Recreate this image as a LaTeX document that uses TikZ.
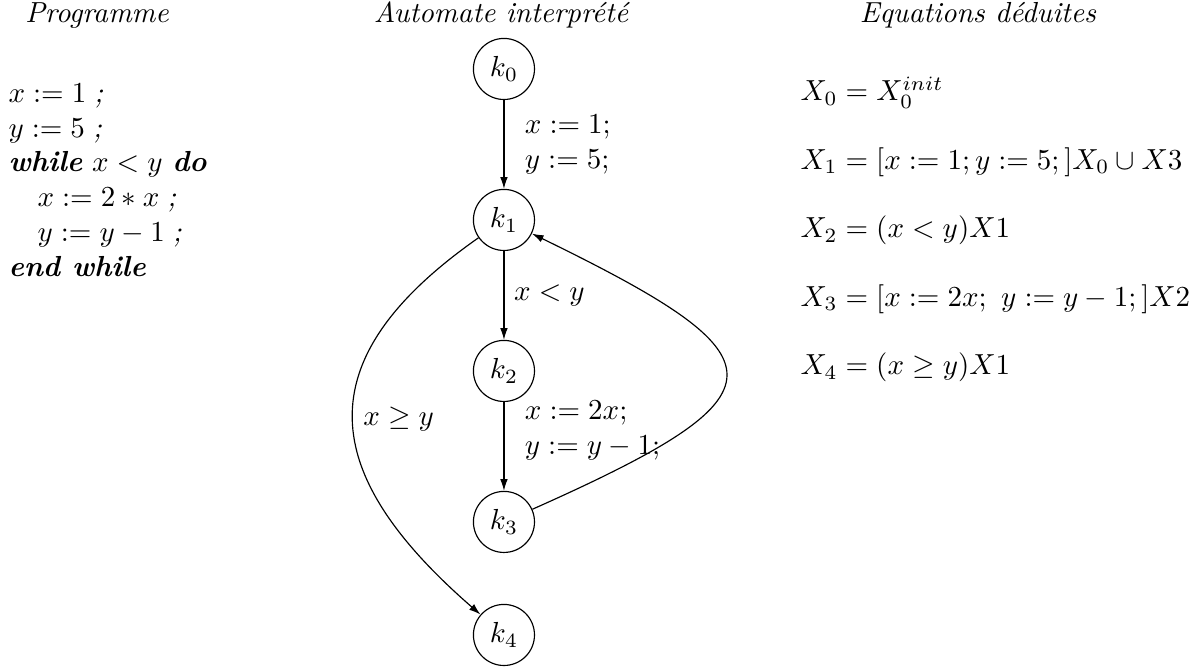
\documentclass[tikz,border=0pt]{standalone}
\usetikzlibrary{arrows.meta}
\tikzset{
  st/.style={circle, draw, thin, minimum size=0.74cm, inner sep=0pt},
  tr/.style={-{Latex[length=4pt, width=2.6pt]}, thin},
  lbl/.style={right, align=left},
  ttl/.style={anchor=base, font=\itshape},
  eqn/.style={anchor=base west, inner sep=0pt},
}

\begin{document}
\begin{tikzpicture}
  \useasboundingbox (0,0) rectangle (14.52,8.108);
  % titres
  \node[ttl] (tprog) at (1.176,7.830) {Programme};
  \node[ttl] (taut) at (6.072,7.830) {Automate interprété};
  \node[ttl] (teq) at (11.853,7.830) {Equations déduites};
  % programme
  \node[anchor=north west, inner sep=0pt, align=left] (prog) at (0.097,7.102) {%
    $x := 1\;$\textit{;}\\
    $y := 5\;$\textit{;}\\
    \textbf{\textit{while}} $x < y$ \textbf{\textit{do}}\\
    \hspace{1em}$x := 2 * x\;$\textit{;}\\
    \hspace{1em}$y := y - 1\;$\textit{;}\\
    \textbf{\textit{end while}}};
  % automate
  \foreach \i/\y in {0/7.272,1/5.442,2/3.612,3/1.782,4/0.412}
    \node[st] (k\i) at (6.108,\y) {$k_\i$};
  \draw[tr] (k0) -- node[lbl, xshift=0.13cm] {$x := 1;$\\$y := 5;$} (k1);
  \draw[tr] (k1) -- node[lbl] {$x < y$} (k2);
  \draw[tr] (k2) -- node[lbl, pos=0.32, xshift=0.13cm] {$x := 2x;$\\$y := y - 1;$} (k3);
  \draw[tr] (k3) to[out=24, in=-26, looseness=2.65] (k1);
  \draw[tr] (k1) to[out=215, in=139, looseness=1.45] node[lbl] {$x \geq y$} (k4);
  % equations
  \foreach \eq [count=\i from 0] in {{X_0 = X_0^{init}},
      {X_1 = [x := 1; y := 5;]X_0 \cup X3},
      {X_2 = (x < y)X1},
      {X_3 = [x := 2x;\ y := y - 1;]X2},
      {X_4 = (x \geq y)X1}}
    \node[eqn] (eq\i) at (9.696,{6.884-0.83*(\i)}) {$\eq$};
\end{tikzpicture}
\end{document}
